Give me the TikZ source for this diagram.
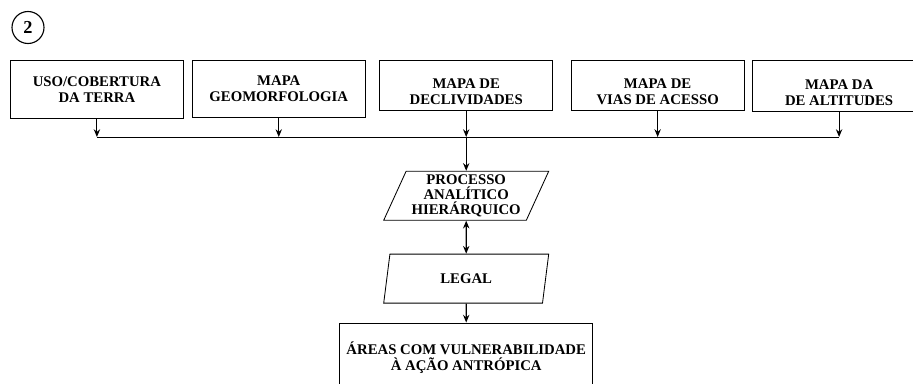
\documentclass[tikz,border=0pt]{standalone}
\usepackage{fontspec}
\setmainfont{Liberation Serif}
\usetikzlibrary{shapes.geometric, arrows, arrows.meta, positioning}

\begin{document}
\begin{tikzpicture}
    \tikzstyle{mapa} = [rectangle, minimum width=4.325cm, minimum height=1.45cm, text centered, align=center, draw=black, line width=0.6pt, font=\fontsize{10.5}{11.5}\selectfont\bfseries, anchor=north west]
\tikzstyle{mapabaixo} = [text height=1.02cm, text depth=0.05cm, inner ysep=0pt]
\tikzstyle{dado} = [trapezium, trapezium left angle=64, trapezium right angle=116, trapezium stretches body, minimum width=4.125cm, minimum height=1.225cm, inner xsep=0pt, inner ysep=1pt, text centered, align=center, draw=black, line width=0.6pt, font=\fontsize{10.5}{11}\selectfont\bfseries]
\tikzstyle{arrow} = [line width=0.8pt,->,>={Stealth[length=5.5pt,width=4.5pt]}]
    \useasboundingbox (0,0) rectangle (22.825,-9.575);
    \node (num) [circle, draw, line width=0.8pt, minimum size=0.8cm, inner sep=0pt, font=\fontsize{13}{13}\selectfont\bfseries] at (0.7,-0.6875) {2};

\node (map1) [mapa] at (0.25,-1.5) {USO/COBERTURA\\DA TERRA};
\node (map2) [mapa, right=0.2cm of map1.north east, anchor=north west, minimum height=1.425cm] {MAPA\\GEOMORFOLOGIA};
\node (map3) [mapa, mapabaixo, right=0.34cm of map2.north east, anchor=north west, minimum height=1.25cm] {MAPA DE\\DECLIVIDADES};
\node (map4) [mapa, mapabaixo, right=0.44cm of map3.north east, anchor=north west, minimum height=1.25cm] {MAPA DE\\VIAS DE ACESSO};
\node (map5) [mapa, mapabaixo, right=0.19cm of map4.north east, anchor=north west, minimum height=1.275cm] {MAPA DA\\DE ALTITUDES};
\coordinate (bus) at (0,-3.425);

\node (ahp) [dado, below=1.5cm of map3] {PROCESSO\\ANALÍTICO\\HIERÁRQUICO};
\node (legal) [dado, below=0.825cm of ahp] {LEGAL};
\node (areas) [mapa, below=0.475cm of legal, anchor=north, minimum width=6.325cm, minimum height=1.75cm] {ÁREAS COM VULNERABILIDADE\\À AÇÃO ANTRÓPICA};

\draw[arrow] (map1.south) -- (map1.south |- bus);
\draw[arrow] (map2.south) -- (map2.south |- bus);
\draw[arrow] (map3.south) -- (map3.south |- bus);
\draw[arrow] (map4.south) -- (map4.south |- bus);
\draw[arrow] (map5.south) -- (map5.south |- bus);
\draw[line width=0.7pt] (map1.south |- bus) -- (map5.south |- bus);

  \draw [arrow] (map3.south |- bus) -- (ahp.north);
\draw [arrow, <->] (ahp) -- (legal);
\draw [arrow] (legal) -- (areas);
  \end{tikzpicture}
\end{document}
